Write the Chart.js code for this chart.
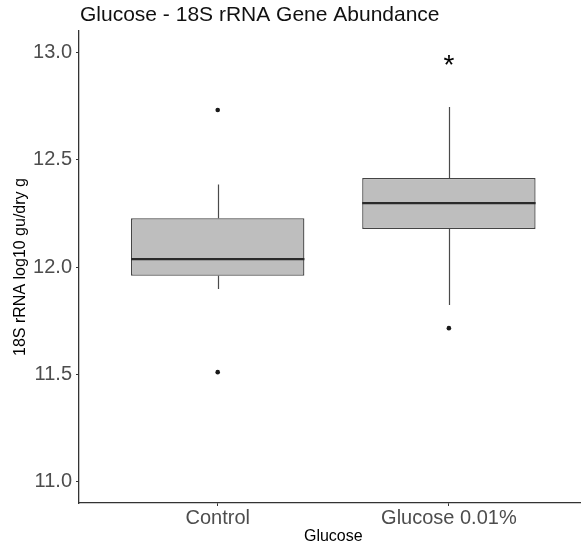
<!DOCTYPE html>
<html><head><meta charset="utf-8">
<script src="https://cdn.jsdelivr.net/npm/chart.js@4/dist/chart.umd.min.js"></script>
<style>html,body{margin:0;padding:0;background:#fff;overflow:hidden;width:581px;height:545px}canvas{display:block}</style>
</head><body>
<canvas id="c" width="600" height="545"></canvas>
<script>
// ---- data ----
const categories = ['Control', 'Glucose 0.01%'];
const positions = [1, 2];
const whiskerLow = [11.897, 11.823];
const q1 = [11.959, 12.177];
const median = [12.037, 12.298];
const q3 = [12.227, 12.415];
const whiskerHigh = [12.385, 12.746];
const outliers = [[12.732, 11.51], [11.715]];
const sigMarks = ['', '*'];
const sigValues = [null, 12.967];
const yTicks = [11.0, 11.5, 12.0, 12.5, 13.0];
const chartTitle = 'Glucose - 18S rRNA Gene Abundance';
const yTitle = '18S rRNA log10 gu/dry g';
const xTitle = 'Glucose';

const FONT = "'Liberation Sans', Arial, sans-serif";
Chart.defaults.font.family = FONT;

const boxPlugin = {
  id: 'boxExtras',
  beforeDatasetsDraw(chart) {
    const {ctx, scales: {x, y}} = chart;
    ctx.save();
    ctx.strokeStyle = '#4a4a4a';
    ctx.lineWidth = 1.2;
    positions.forEach((p, i) => {
      const px = Math.round(x.getPixelForValue(p)) + 0.5;
      ctx.beginPath();
      ctx.moveTo(px, y.getPixelForValue(whiskerHigh[i]));
      ctx.lineTo(px, y.getPixelForValue(q3[i]));
      ctx.moveTo(px, y.getPixelForValue(q1[i]));
      ctx.lineTo(px, y.getPixelForValue(whiskerLow[i]));
      ctx.stroke();
    });
    ctx.restore();
  },
  afterDatasetsDraw(chart) {
    const {ctx, scales: {x, y}} = chart;
    const meta = chart.getDatasetMeta(0);
    ctx.save();
    ctx.strokeStyle = '#2a2a2a';
    ctx.lineWidth = 2.2;
    positions.forEach((p, i) => {
      const el = meta.data[i];
      const half = el.width / 2;
      const px = x.getPixelForValue(p);
      const py = y.getPixelForValue(median[i]);
      ctx.beginPath();
      ctx.moveTo(px - half, py);
      ctx.lineTo(px + half, py);
      ctx.stroke();
    });
    // significance marks
    ctx.fillStyle = '#000';
    ctx.font = '28px ' + FONT;
    ctx.textAlign = 'center';
    ctx.textBaseline = 'alphabetic';
    positions.forEach((p, i) => {
      if (!sigMarks[i]) return;
      const m = ctx.measureText(sigMarks[i]);
      const py = y.getPixelForValue(sigValues[i]);
      const off = (m.actualBoundingBoxAscent - m.actualBoundingBoxDescent) / 2;
      ctx.fillText(sigMarks[i], x.getPixelForValue(p), py + off);
    });
    ctx.restore();
  },
  afterDraw(chart) {
    const {ctx, chartArea} = chart;
    ctx.save();
    ctx.fillStyle = '#111';
    ctx.font = '21px ' + FONT;
    ctx.textAlign = 'left';
    ctx.textBaseline = 'alphabetic';
    ctx.fillText(chartTitle, chartArea.left + 1, 21);
    ctx.restore();
  }
};

const outlierPoints = [];
positions.forEach((p, i) => outliers[i].forEach(v => outlierPoints.push({x: p, y: v})));

const tickCol = c => (c.tick && positions.includes(c.tick.value)) ? '#333' : 'rgba(0,0,0,0)';

new Chart(document.getElementById('c'), {
  type: 'bar',
  data: {
    datasets: [
      {
        type: 'bar',
        data: positions.map((p, i) => ({x: p, y: [q1[i], q3[i]]})),
        backgroundColor: '#bebebe',
        borderColor: '#444',
        borderWidth: 1.3,
        borderSkipped: false,
        barPercentage: 0.75,
        categoryPercentage: 1,
        order: 2
      },
      {
        type: 'scatter',
        data: outlierPoints,
        pointRadius: 2.3,
        pointBackgroundColor: '#1a1a1a',
        pointBorderWidth: 0,
        order: 1
      }
    ]
  },
  options: {
    responsive: false,
    animation: false,
    layout: {padding: {top: 31, right: 12.4, left: 0, bottom: 0}},
    plugins: {legend: {display: false}, tooltip: {enabled: false}, title: {display: false}},
    scales: {
      x: {
        type: 'linear',
        min: 0.4, max: 2.6,
        offset: false,
        afterBuildTicks: s => { s.ticks = positions.map(v => ({value: v})); },
        afterFit: s => { s.height = 42; },
        ticks: {
          callback: (v, i) => categories[i],
          font: {size: 20},
          color: '#4d4d4d',
          padding: 0,
          autoSkip: false,
          maxRotation: 0
        },
        grid: {display: true, offset: false, drawOnChartArea: false, drawTicks: true, tickLength: 3, color: tickCol, tickColor: tickCol, tickWidth: 1},
        border: {display: true, color: '#333', width: 1.3},
        title: {display: true, text: xTitle, font: {size: 16, lineHeight: 1}, color: '#000', padding: {top: 0, bottom: 0}}
      },
      y: {
        type: 'linear',
        min: 10.9, max: 13.1,
        beginAtZero: false,
        afterBuildTicks: s => { s.ticks = yTicks.map(v => ({value: v})); },
        afterFit: s => { s.width = 79; },
        ticks: {
          callback: v => Number(v).toFixed(1),
          font: {size: 20},
          color: '#4d4d4d',
          padding: 4
        },
        grid: {display: true, drawOnChartArea: false, drawTicks: true, tickLength: 3, color: '#333', tickWidth: 1},
        border: {display: true, color: '#333', width: 1.3},
        title: {display: true, text: yTitle, font: {size: 16}, color: '#000', padding: {top: 11, bottom: 0}}
      }
    }
  },
  plugins: [boxPlugin]
});
</script>
</body></html>
